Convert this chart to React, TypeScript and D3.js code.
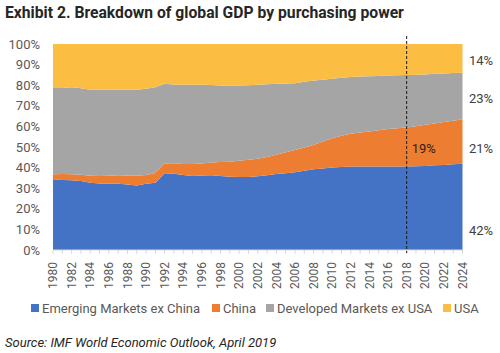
import React from "react";
import * as d3 from "d3";

const years = d3.range(1980, 2025);
const emergingExChina = [34.3, 34.0, 33.8, 33.5, 32.7, 32.3, 32.2, 32.2, 31.8, 31.3, 32.2, 32.6, 37.3, 37.0, 36.4, 35.9, 36.2, 36.3, 35.9, 35.5, 35.4, 35.4, 35.8, 36.3, 36.9, 37.3, 37.8, 38.5, 39.2, 39.6, 40.0, 40.3, 40.5, 40.5, 40.5, 40.5, 40.5, 40.5, 40.5, 40.6, 40.8, 41.1, 41.3, 41.6, 41.9];
const china = [2.5, 2.9, 3.0, 3.0, 3.3, 3.6, 3.8, 4.1, 4.4, 4.7, 4.2, 4.8, 4.7, 5.1, 5.4, 5.9, 5.8, 6.2, 6.8, 7.4, 7.9, 8.4, 8.5, 8.9, 9.3, 10.1, 10.8, 11.3, 11.8, 13.1, 14.3, 15.2, 15.9, 16.5, 17.0, 17.6, 18.2, 18.6, 19.0, 19.5, 20.0, 20.3, 20.8, 21.2, 21.6];
const developedExUsa = [41.8, 41.8, 42.2, 42.0, 41.8, 41.9, 41.8, 41.5, 41.6, 41.8, 41.9, 41.6, 38.7, 38.3, 38.4, 38.4, 38.2, 37.6, 37.1, 36.9, 36.5, 36.2, 35.9, 35.3, 34.5, 33.4, 32.4, 31.9, 31.3, 30.0, 28.8, 28.1, 27.6, 27.2, 26.8, 26.4, 26.0, 25.7, 25.5, 25.0, 24.4, 24.1, 23.6, 23.1, 22.6];
const usa = [21.4, 21.3, 21.0, 21.5, 22.2, 22.2, 22.2, 22.2, 22.2, 22.2, 21.7, 21.0, 19.3, 19.6, 19.8, 19.8, 19.8, 19.9, 20.2, 20.2, 20.2, 20.0, 19.8, 19.5, 19.3, 19.2, 19.0, 18.3, 17.7, 17.3, 16.9, 16.4, 16.0, 15.8, 15.7, 15.5, 15.3, 15.2, 15.0, 14.9, 14.8, 14.5, 14.3, 14.1, 13.9];

const seriesNames = ["Emerging Markets ex China", "China", "Developed Markets ex USA", "USA"];
const seriesKeys = ["em", "china", "dm", "usa"];
const colors = ["#4472C4", "#ED7D31", "#A5A5A5", "#FBBE42"];
const yTicks = d3.range(0, 101, 10);
const xLabelYears = d3.range(1980, 2025, 2);
const markerYear = 2018;
const markerLabel = "19%";
const endLabels = ["14%", "23%", "21%", "42%"];
const endLabelValues = [92.2, 73.8, 49.5, 9.7];

const FONT = "Roboto, 'Open Sans', sans-serif";

export default function App() {
  const W = 500, H = 353;
  const x = d3.scaleLinear().domain([1980, 2024]).range([53, 462.5]);
  const y = d3.scaleLinear().domain([0, 100]).range([250, 44]);

  const table = years.map((yr, i) => ({
    year: yr,
    em: emergingExChina[i],
    china: china[i],
    dm: developedExUsa[i],
    usa: usa[i],
  }));
  const stack = d3.stack<any>().keys(seriesKeys);
  const layers = stack(table);
  const area = d3
    .area<any>()
    .x((d) => x(d.data.year))
    .y0((d) => y(d[0]))
    .y1((d) => y(d[1]));

  const mi = years.indexOf(markerYear);
  const markerY = (layers[1][mi][0] + layers[1][mi][1]) / 2 - 0.5;

  const legendX = [31, 212, 266, 443];

  return (
    <svg
      width={W}
      height={H}
      style={{ position: "absolute", left: 0, top: 0, background: "#fff" }}
      fontFamily={FONT}
    >
      <text x={5} y={18} fontSize={15.7} fontWeight="bold" fill="#262626">
        Exhibit 2. Breakdown of global GDP by purchasing power
      </text>

      {layers.map((l, i) => (
        <path key={seriesKeys[i]} d={area(l) || ""} fill={colors[i]} />
      ))}

      {yTicks.map((t) => (
        <text key={t} x={40} y={y(t)} dy="0.35em" textAnchor="end" fontSize={13} fill="#595959">
          {t}%
        </text>
      ))}

      <line x1={x(1980)} x2={x(2024)} y1={y(0)} y2={y(0)} stroke="#D9D9D9" strokeWidth={1} />
      {years.map((yr) => (
        <line key={yr} x1={x(yr)} x2={x(yr)} y1={y(0)} y2={y(0) + 4} stroke="#D9D9D9" strokeWidth={1} />
      ))}
      {xLabelYears.map((yr) => (
        <text
          key={yr}
          transform={`translate(${x(yr)},${262}) rotate(-90)`}
          textAnchor="end"
          dy="0.35em"
          fontSize={12}
          fill="#595959"
        >
          {yr}
        </text>
      ))}

      <line
        x1={x(markerYear)}
        x2={x(markerYear)}
        y1={36}
        y2={y(0) + 3}
        stroke="#1a1a1a"
        strokeWidth={1}
        strokeDasharray="3,2"
      />
      <text x={x(markerYear) + 5} y={y(markerY)} dy="0.35em" fontSize={13} fill="#3a1a0a">
        {markerLabel}
      </text>

      {endLabels.map((lab, i) => (
        <text key={lab} x={469} y={y(endLabelValues[i])} dy="0.35em" fontSize={13} fill="#404040">
          {lab}
        </text>
      ))}

      {seriesNames.map((name, i) => (
        <g key={name} transform={`translate(${legendX[i]},308)`}>
          <rect x={0} y={-4} width={8} height={8} fill={colors[i]} />
          <text x={11} y={0} dy="0.35em" fontSize={13} fill="#595959">
            {name}
          </text>
        </g>
      ))}

      <text x={5} y={342} dy="0.35em" fontSize={13} fontStyle="italic" fill="#262626">
        Source: IMF World Economic Outlook, April 2019
      </text>
    </svg>
  );
}
